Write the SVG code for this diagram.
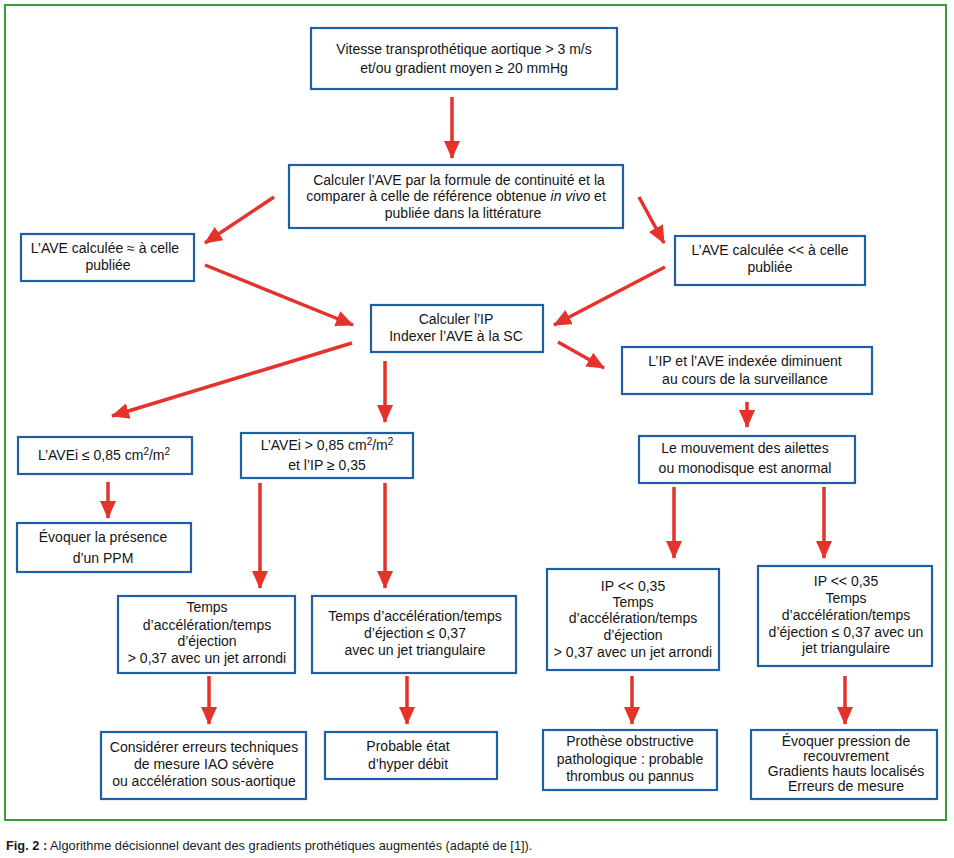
<svg xmlns="http://www.w3.org/2000/svg" width="954" height="858" viewBox="0 0 954 858">
<defs>
<style>
.box{fill:#fff;stroke:#1f5fa6;stroke-width:2.2}
.t{font-family:"Liberation Sans",Arial,sans-serif;font-size:14px;fill:#151515;text-anchor:middle}
.c{stroke:#e5322b;stroke-width:3.5;fill:none}
.cap{font-family:"Liberation Sans",Arial,sans-serif;font-size:12.8px;fill:#1a1a1a}
</style>
<marker id="ah" markerUnits="userSpaceOnUse" viewBox="0 0 18 16" markerWidth="18" markerHeight="16" refX="17" refY="8" orient="auto">
<path d="M0,0 L18,8 L0,16 z" fill="#e5322b"/>
</marker>
</defs>
<rect x="0" y="0" width="954" height="858" fill="#fff"/>
<rect x="5" y="5" width="941" height="815" fill="none" stroke="#3a9b3a" stroke-width="2"/>

<g id="connectors">
<line class="c" x1="452" y1="97" x2="452" y2="158" marker-end="url(#ah)"/>
<line class="c" x1="274" y1="197" x2="205" y2="243" marker-end="url(#ah)"/>
<line class="c" x1="639" y1="197" x2="664" y2="243" marker-end="url(#ah)"/>
<line class="c" x1="205" y1="265" x2="353" y2="325" marker-end="url(#ah)"/>
<line class="c" x1="665" y1="267" x2="554" y2="325" marker-end="url(#ah)"/>
<line class="c" x1="352" y1="343" x2="112" y2="416" marker-end="url(#ah)"/>
<line class="c" x1="385" y1="361" x2="385" y2="422" marker-end="url(#ah)"/>
<line class="c" x1="558" y1="342" x2="604" y2="368" marker-end="url(#ah)"/>
<line class="c" x1="747" y1="402" x2="747" y2="427" marker-end="url(#ah)"/>
<line class="c" x1="108" y1="482" x2="108" y2="518" marker-end="url(#ah)"/>
<line class="c" x1="260" y1="483" x2="260" y2="588" marker-end="url(#ah)"/>
<line class="c" x1="385" y1="483" x2="385" y2="588" marker-end="url(#ah)"/>
<line class="c" x1="674" y1="487" x2="674" y2="558" marker-end="url(#ah)"/>
<line class="c" x1="824" y1="487" x2="824" y2="558" marker-end="url(#ah)"/>
<line class="c" x1="209" y1="676" x2="209" y2="724" marker-end="url(#ah)"/>
<line class="c" x1="407" y1="676" x2="407" y2="724" marker-end="url(#ah)"/>
<line class="c" x1="632" y1="676" x2="632" y2="724" marker-end="url(#ah)"/>
<line class="c" x1="845" y1="676" x2="845" y2="724" marker-end="url(#ah)"/>
</g>

<g id="n1"><rect class="box" x="311" y="28" width="306" height="61"/>
<text class="t" x="464" y="54">Vitesse transprothétique aortique &gt; 3 m/s</text>
<text class="t" x="464" y="73">et/ou gradient moyen ≥  20 mmHg</text></g>

<g id="n2"><rect class="box" x="289" y="165" width="334" height="63"/>
<text class="t" x="459" y="185">Calculer l’AVE par la formule de continuité et la</text>
<text class="t" x="456" y="201">comparer à celle de référence obtenue <tspan font-style="italic">in vivo</tspan> et</text>
<text class="t" x="463" y="218">publiée dans la littérature</text></g>

<g id="n3"><rect class="box" x="21" y="234" width="173" height="47"/>
<text class="t" x="105" y="253">L’AVE calculée ≈ à celle</text>
<text class="t" x="108" y="270">publiée</text></g>

<g id="n4"><rect class="box" x="675" y="236" width="190" height="49"/>
<text class="t" x="770" y="255">L’AVE calculée &lt;&lt; à celle</text>
<text class="t" x="770" y="272">publiée</text></g>

<g id="n5"><rect class="box" x="371" y="305" width="172" height="47"/>
<text class="t" x="456" y="324">Calculer l’IP</text>
<text class="t" x="456" y="341">Indexer l’AVE à la SC</text></g>

<g id="n6"><rect class="box" x="622" y="347" width="250" height="47"/>
<text class="t" x="745" y="366">L’IP et l’AVE indexée diminuent</text>
<text class="t" x="745" y="384">au cours de la surveillance</text></g>

<g id="n7"><rect class="box" x="639" y="436" width="216" height="47"/>
<text class="t" x="745" y="453">Le mouvement des ailettes</text>
<text class="t" x="745" y="473">ou monodisque est anormal</text></g>

<g id="n8"><rect class="box" x="18" y="437" width="174" height="37"/>
<text class="t" x="104" y="460">L’AVEi ≤ 0,85 cm<tspan font-size="10" dy="-5">2</tspan><tspan dy="5">/m</tspan><tspan font-size="10" dy="-5">2</tspan></text></g>

<g id="n9"><rect class="box" x="241" y="433" width="172" height="45"/>
<text class="t" x="327" y="450">L’AVEi &gt; 0,85 cm<tspan font-size="10" dy="-5">2</tspan><tspan dy="5">/m</tspan><tspan font-size="10" dy="-5">2</tspan></text>
<text class="t" x="327" y="470">et l’IP ≥ 0,35</text></g>

<g id="n10"><rect class="box" x="17" y="523" width="174" height="49"/>
<text class="t" x="103" y="542">Évoquer la  présence</text>
<text class="t" x="103" y="563">d’un PPM</text></g>

<g id="n11"><rect class="box" x="118" y="596" width="177" height="77"/>
<text class="t" x="207" y="612">Temps</text>
<text class="t" x="207" y="630">d’accélération/temps</text>
<text class="t" x="207" y="646">d’éjection</text>
<text class="t" x="207" y="663">&gt; 0,37 avec un jet arrondi</text></g>

<g id="n12"><rect class="box" x="312" y="596" width="204" height="77"/>
<text class="t" x="415" y="621">Temps d’accélération/temps</text>
<text class="t" x="415" y="638">d’éjection ≤ 0,37</text>
<text class="t" x="415" y="655">avec un  jet triangulaire</text></g>

<g id="n13"><rect class="box" x="547" y="569" width="172" height="101"/>
<text class="t" x="633" y="591">IP &lt;&lt; 0,35</text>
<text class="t" x="633" y="607">Temps</text>
<text class="t" x="633" y="623">d’accélération/temps</text>
<text class="t" x="633" y="640">d’éjection</text>
<text class="t" x="633" y="657">&gt; 0,37 avec un jet arrondi</text></g>

<g id="n14"><rect class="box" x="758" y="566" width="174" height="100"/>
<text class="t" x="846" y="586">IP &lt;&lt; 0,35</text>
<text class="t" x="846" y="603">Temps</text>
<text class="t" x="846" y="620">d’accélération/temps</text>
<text class="t" x="846" y="637">d’éjection ≤  0,37 avec un</text>
<text class="t" x="846" y="653">jet triangulaire</text></g>

<g id="n15"><rect class="box" x="101" y="732" width="205" height="67"/>
<text class="t" x="204" y="752">Considérer erreurs  techniques</text>
<text class="t" x="204" y="769">de mesure IAO sévère</text>
<text class="t" x="204" y="786">ou accélération sous-aortique</text></g>

<g id="n16"><rect class="box" x="325" y="732" width="172" height="47"/>
<text class="t" x="408" y="751">Probable état</text>
<text class="t" x="408" y="769">d’hyper débit</text></g>

<g id="n17"><rect class="box" x="543" y="730" width="174" height="60"/>
<text class="t" x="630" y="746">Prothèse obstructive</text>
<text class="t" x="630" y="764">pathologique : probable</text>
<text class="t" x="630" y="781">thrombus ou pannus</text></g>

<g id="n18"><rect class="box" x="751" y="730" width="186" height="69"/>
<text class="t" x="846" y="746">Évoquer pression de</text>
<text class="t" x="846" y="761">recouvrement</text>
<text class="t" x="846" y="776">Gradients hauts localisés</text>
<text class="t" x="846" y="791">Erreurs de mesure</text></g>

<text class="cap" x="6" y="850"><tspan font-weight="bold">Fig. 2 :</tspan> Algorithme décisionnel devant des gradients prothétiques augmentés (adapté de [1]).</text>
</svg>
